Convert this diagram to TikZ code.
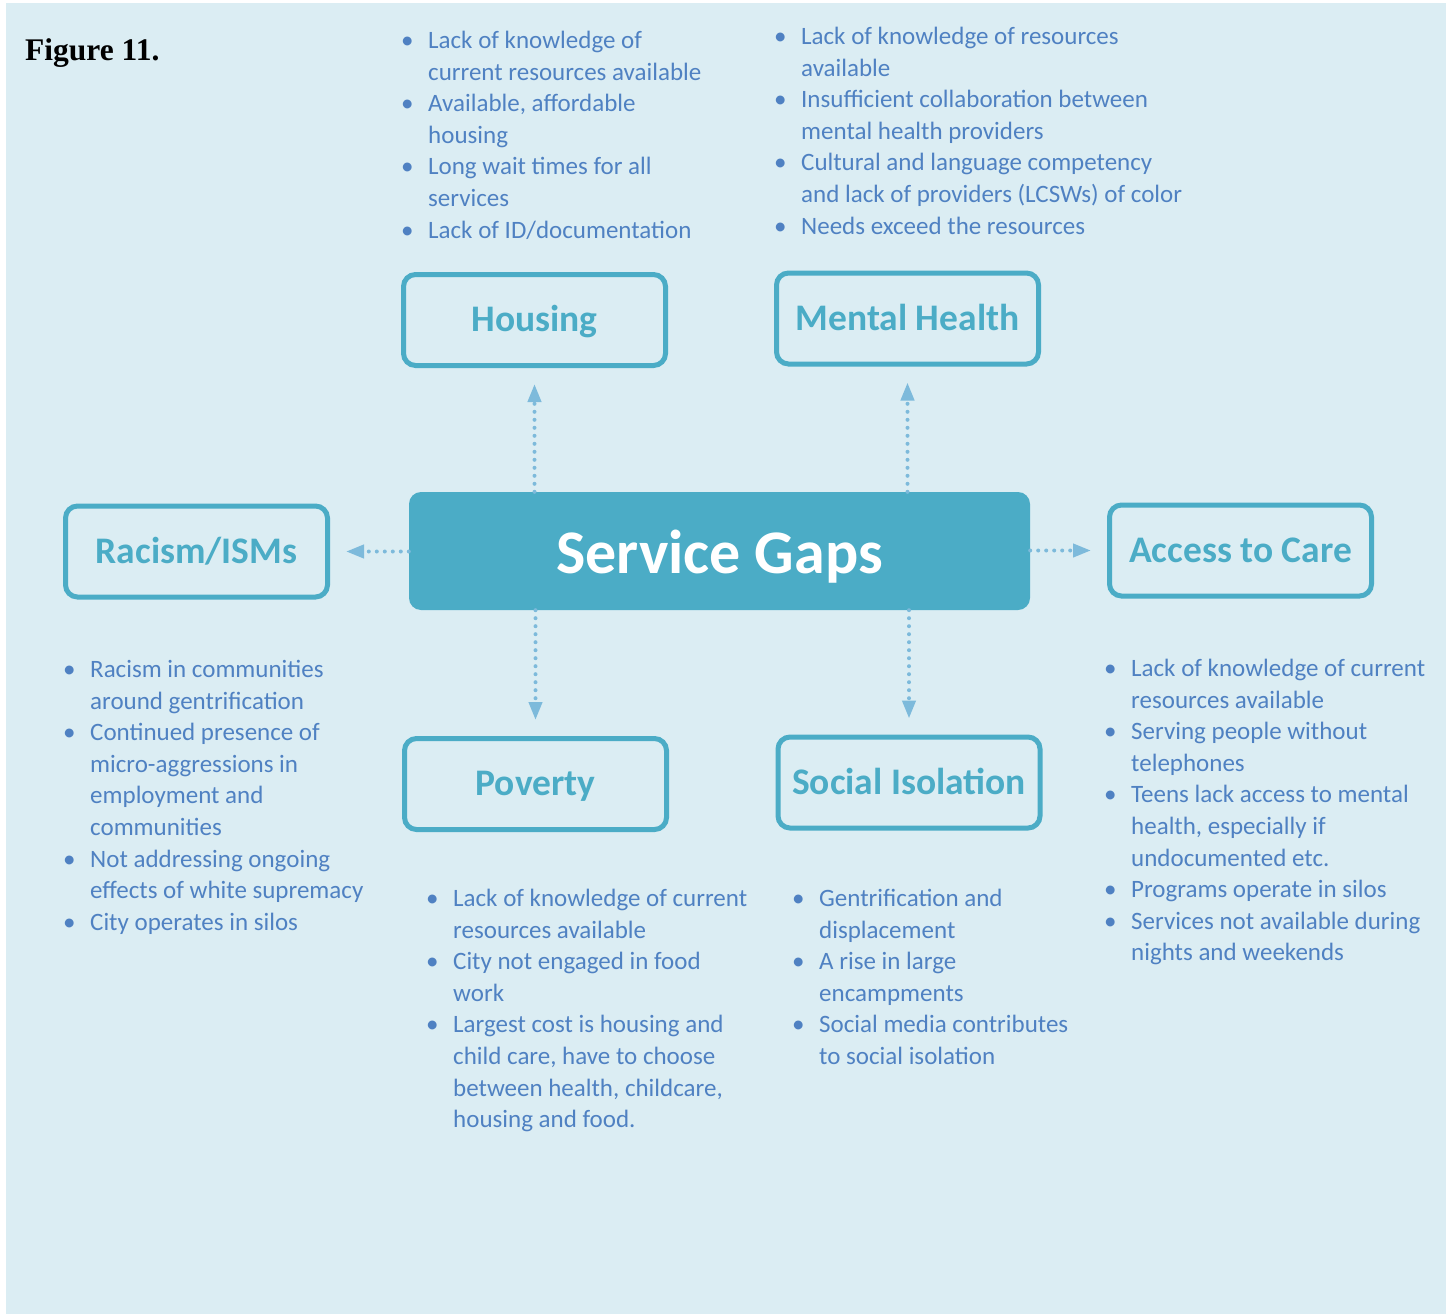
\documentclass[tikz,border=0pt]{standalone}
\usepackage{fontspec}
\setmainfont{Carlito}
\newfontfamily\figfont{Liberation Serif}
\usetikzlibrary{arrows.meta}
\definecolor{bg}{HTML}{DBEDF3}
\definecolor{teal}{HTML}{4BACC6}
\definecolor{arrowc}{HTML}{7DBADB}
\definecolor{listc}{HTML}{4F81C2}
\newcommand\bul{\makebox[27pt][l]{\textbullet}}
\newcommand\ind{\hspace*{27pt}}
\tikzset{
  cat/.style={draw=teal, line width=5pt, rounded corners=12pt, minimum width=262pt,
    minimum height=91pt, inner sep=0pt, text height=27pt, text depth=3.6pt,
    text=teal, font=\fontsize{37.5}{40}\selectfont\bfseries},
  gap/.style={fill=teal, rounded corners=12pt, minimum width=621pt, minimum height=118pt,
    inner sep=0pt, text height=46pt, text depth=1.4pt,
    text=white, font=\fontsize{62}{64}\selectfont\bfseries},
  conn/.style={draw=arrowc, line width=4pt, dash pattern=on 0pt off 8pt, line cap=round,
    -{Triangle[length=18pt,width=13pt]}, shorten >=16pt},
  list/.style={anchor=north west, inner sep=0pt, align=left, text=listc,
    font=\fontsize{25}{31.6}\selectfont},
}
\begin{document}
\begin{tikzpicture}[x=1pt,y=-1pt]
  \useasboundingbox (0,0) rectangle (1449,1314);
  \fill[bg] (6,3) rectangle (1446,1314);
  \node[anchor=base west, inner sep=0pt, font=\figfont\fontsize{31.5}{34}\selectfont\bfseries] (fig) at (25,60) {Figure 11.};
  % centre and categories
  \node[gap] (gaps) at (719.5,551) {Service Gaps};
  \node[cat] (housing) at (534.5,320) {Housing};
  \node[cat] (mental) at (907.5,318.5) {Mental Health};
  \node[cat] (racism) at (196.5,551.5) {Racism/ISMs};
  \node[cat] (access) at (1240.5,550.5) {Access to Care};
  \node[cat] (poverty) at (535.5,784) {Poverty};
  \node[cat] (social) at (909,782.5) {Social Isolation};
  % dotted arrows
  \draw[conn] (gaps.north -| housing.south) -- (housing.south);
  \draw[conn] (gaps.north -| mental.south) -- (mental.south);
  \draw[conn] (gaps.west |- racism.east) -- (racism.east);
  \draw[conn] (gaps.east |- access.west) -- (access.west);
  \draw[conn] (gaps.south -| poverty.north) -- (poverty.north);
  \draw[conn] (gaps.south -| social.north) -- (social.north);
  % lists
  \node[list] (housinglist) at (401,31) {\bul Lack of knowledge of\\ \ind current resources available\\
    \bul Available, affordable\\ \ind housing\\ \bul Long wait times for all\\ \ind services\\
    \bul Lack of ID/documentation};
  \node[list] (mentallist) at (774,27) {\bul Lack of knowledge of resources\\ \ind available\\
    \bul Insufficient collaboration between\\ \ind mental health providers\\
    \bul Cultural and language competency\\ \ind and lack of providers (LCSWs) of color\\
    \bul Needs exceed the resources};
  \node[list] (racismlist) at (63,660) {\bul Racism in communities\\ \ind around gentrification\\
    \bul Continued presence of\\ \ind micro-aggressions in\\ \ind employment and\\ \ind communities\\
    \bul Not addressing ongoing\\ \ind effects of white supremacy\\ \bul City operates in silos};
  \node[list] (accesslist) at (1104,659) {\bul Lack of knowledge of current\\ \ind resources available\\
    \bul Serving people without\\ \ind telephones\\ \bul Teens lack access to mental\\
    \ind health, especially if\\ \ind undocumented etc.\\ \bul Programs operate in silos\\
    \bul Services not available during\\ \ind nights and weekends};
  \node[list] (povertylist) at (426,889) {\bul Lack of knowledge of current\\ \ind resources available\\
    \bul City not engaged in food\\ \ind work\\ \bul Largest cost is housing and\\
    \ind child care, have to choose\\ \ind between health, childcare,\\ \ind housing and food.};
  \node[list] (sociallist) at (792,889) {\bul Gentrification and\\ \ind displacement\\
    \bul A rise in large\\ \ind encampments\\ \bul Social media contributes\\ \ind to social isolation};
\end{tikzpicture}
\end{document}
